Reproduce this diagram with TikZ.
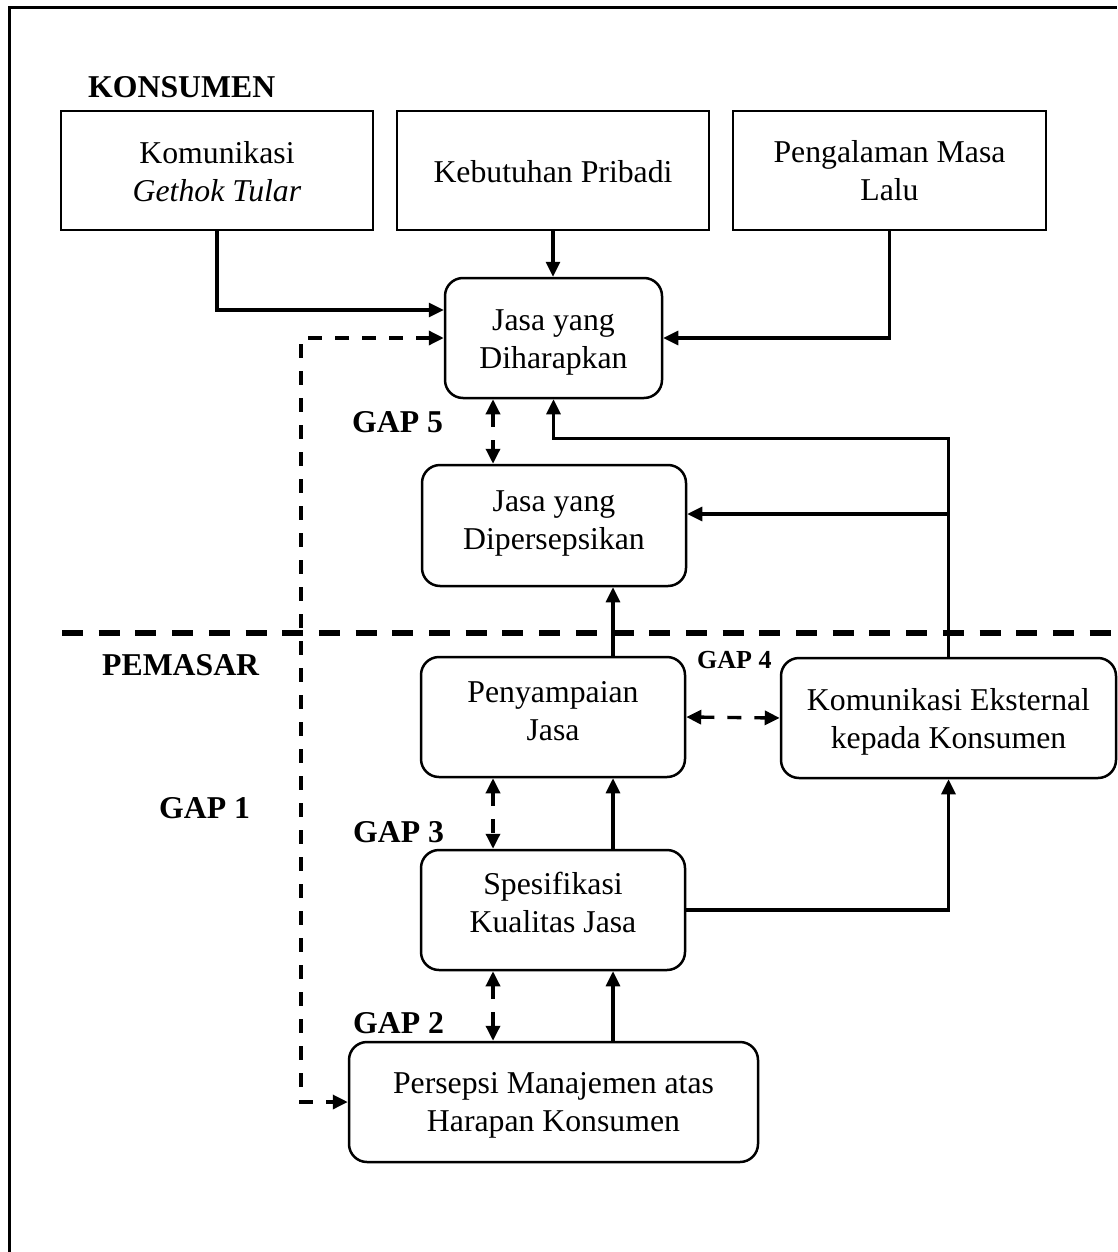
\documentclass[tikz,border=0pt]{standalone}
\usepackage{fontspec}
\setmainfont{Liberation Serif}
\usetikzlibrary{arrows.meta}
% centred block of lines, lifted by #1 pt without changing its reported size
\newcommand\boxtext[2]{\raisebox{#1pt}[\height][\depth]{\begin{tabular}{@{}c@{}}#2\end{tabular}}}
\begin{document}
\begin{tikzpicture}[x=1pt,y=-1pt,
  txt/.style={font=\fontsize{31.75pt}{38pt}\selectfont},
  sqbox/.style={draw, line width=2.5pt, inner sep=0pt, minimum width=312pt, minimum height=119pt, txt},
  rbox/.style={draw, rounded corners=18pt, line width=2.5pt, inner sep=0pt, minimum height=120pt, txt},
  tip/.style={},
  conn/.style={line width=3.2pt, -{Triangle[length=15pt,width=14pt]}},
  gap/.style={line width=3.4pt, dash pattern=on 14pt off 13pt,
    {Triangle[length=15pt,width=14pt]}-{Triangle[length=15pt,width=14pt]}},
  head/.style={font=\fontsize{31.75pt}{38pt}\selectfont\bfseries, anchor=base west, inner sep=0pt}]
\useasboundingbox (0,0) rectangle (1117,1252);

% outer frame
\draw[line width=3pt] (9.5,1252) -- (9.5,8) -- (1117,8);

% consumer side
\node[head] (lk) at (88,98) {KONSUMEN};
\node[sqbox] (k1) at (217,170.5) {\boxtext{-4}{Komunikasi\\\textit{Gethok Tular}}};
\node[sqbox] (k2) at (553,170.5) {\boxtext{-4}{Kebutuhan Pribadi}};
\node[sqbox, minimum width=313pt] (k3) at (889.5,170.5) {\boxtext{-3}{Pengalaman Masa\\Lalu}};
\node[rbox, minimum width=217pt] (exp) at (553.5,338) {\boxtext{-4}{Jasa yang\\Diharapkan}};
\node[rbox, minimum width=264pt, minimum height=121pt] (per) at (554,525.5) {\boxtext{3}{Jasa yang\\Dipersepsikan}};

% divider between consumer and marketer
\coordinate (sepL) at (62,633);
\coordinate (sepR) at (1117,633);
\draw[line width=6pt, dash pattern=on 21pt off 15.7pt] (sepL) -- (sepR);

% marketer side
\node[head] (lp) at (102,675) {PEMASAR};
\node[rbox, minimum width=264pt] (pen) at (553,717) {\boxtext{3.6}{Penyampaian\\Jasa}};
\node[rbox, minimum width=264pt] (spe) at (553,910) {\boxtext{4.6}{Spesifikasi\\Kualitas Jasa}};
\node[rbox, minimum width=409pt] (man) at (553.5,1102) {\boxtext{-3}{Persepsi Manajemen atas\\Harapan Konsumen}};
\node[rbox, minimum width=335pt] (ext) at (948.5,718) {\boxtext{-3.5}{Komunikasi Eksternal\\kepada Konsumen}};

% gap labels
\node[head] (g1l) at (159,818) {GAP 1};
\node[head] (g2l) at (353,1033) {GAP 2};
\node[head] (g3l) at (353,842) {GAP 3};
\node[head, font=\fontsize{26pt}{30pt}\selectfont\bfseries] (g4l) at (697,668) {GAP 4};
\node[head] (g5l) at (352,432) {GAP 5};

% connector columns
\coordinate (cs) at (613,0);
\coordinate (cd) at (493,0);
\coordinate (cg) at (301,0);
\coordinate (ytop) at ([yshift=-39pt]exp.south);
\coordinate (pin) at ([yshift=11.5pt]per.east);

% solid connectors
\draw[conn] (k1.south) |- ([yshift=28pt]exp.west);
\draw[conn] (k2.south) -- (k2.south |- exp.north);
\draw[conn] (k3.south) |- (exp.east);
\draw[conn] (ext.north) |- (ytop) -- (exp.south);
\draw[conn] (pin -| ext.north) -- (pin);
\draw[conn] (pen.north -| cs) -- (per.south -| cs);
\draw[conn] (spe.north -| cs) -- (pen.south -| cs);
\draw[conn] (man.north -| cs) -- (spe.south -| cs);
\draw[conn] (spe.east) -| (ext.south);

% gaps (dashed, two-headed)
\draw[gap] (exp.west) -- (exp.west -| cg) -- (man.west -| cg) -- (man.west);
\draw[gap] (exp.south -| cd) -- (per.north -| cd);
\draw[gap] (pen.south -| cd) -- (spe.north -| cd);
\draw[gap] (spe.south -| cd) -- (man.north -| cd);
\draw[gap] (pen.east) -- (ext.west);
\end{tikzpicture}
\end{document}
